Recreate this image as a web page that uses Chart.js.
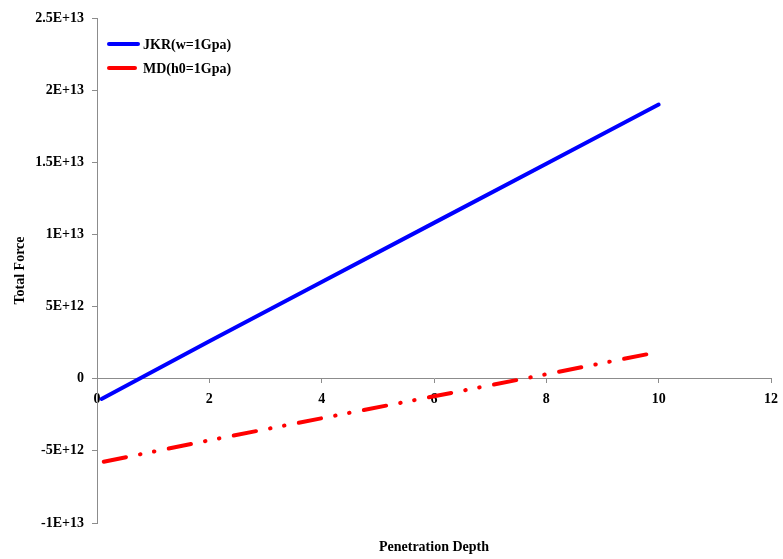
<!DOCTYPE html>
<html>
<head>
<meta charset="utf-8">
<script src="https://cdn.jsdelivr.net/npm/chart.js@4/dist/chart.umd.min.js"></script>
<style>
  html, body { margin: 0; padding: 0; background: #fff; }
  #wrap { width: 783px; height: 559px; position: relative; }
</style>
</head>
<body>
<div id="wrap"><canvas id="c"></canvas></div>
<script>
// ---- data ----
const seriesNames = ['JKR(w=1Gpa)', 'MD(h0=1Gpa)'];
const jkrDepth = [0.08, 2, 4, 6, 8, 10];
const jkrForce = [-1.4e12, 2.6e12, 6.7e12, 10.8e12, 14.9e12, 19.0e12];
const mdDepth = [0.12, 2, 4, 6, 8, 9.8];
const mdForce = [-5.75e12, -4.27e12, -2.74e12, -1.22e12, 0.31e12, 1.70e12];
const yTickValues = [-1e13, -5e12, 0, 5e12, 1e13, 1.5e13, 2e13, 2.5e13];
const yTickLabels = ['-1E+13', '-5E+12', '0', '5E+12', '1E+13', '1.5E+13', '2E+13', '2.5E+13'];
const xTickLabels = ['0', '2', '4', '6', '8', '10', '12'];
const xTitle = 'Penetration Depth';
const yTitle = 'Total Force';

const FONT = "'Liberation Serif', 'Times New Roman', serif";
const AXIS_GRAY = '#8c8c8c';
const colors = ['#0000ff', '#ff0000'];

const toPoints = (xs, ys) => xs.map((x, i) => ({ x: x, y: ys[i] }));

const legendPlugin = {
  id: 'insideLegend',
  afterDraw(chart) {
    const ctx = chart.ctx;
    const items = [
      { text: seriesNames[0], color: colors[0], y: 44, x2: 138 },
      { text: seriesNames[1], color: colors[1], y: 68, x2: 135 }
    ];
    ctx.save();
    items.forEach(it => {
      ctx.beginPath();
      ctx.strokeStyle = it.color;
      ctx.lineWidth = 4;
      ctx.lineCap = 'round';
      ctx.setLineDash([]);
      ctx.moveTo(109, it.y);
      ctx.lineTo(it.x2, it.y);
      ctx.stroke();
      ctx.fillStyle = '#000';
      ctx.font = 'bold 14px ' + FONT;
      ctx.textBaseline = 'middle';
      ctx.textAlign = 'left';
      ctx.fillText(it.text, 143, it.y + 1);
    });
    ctx.restore();
  }
};

new Chart(document.getElementById('c'), {
  type: 'line',
  data: {
    datasets: [
      {
        label: seriesNames[0],
        data: toPoints(jkrDepth, jkrForce),
        borderColor: colors[0],
        borderWidth: 4,
        borderCapStyle: 'round',
        pointRadius: 0,
        tension: 0,
        fill: false
      },
      {
        label: seriesNames[1],
        data: toPoints(mdDepth, mdForce),
        borderColor: colors[1],
        borderWidth: 4,
        borderCapStyle: 'round',
        borderDash: [22.7, 14.3, 0.5, 13.7, 0.5, 14.6],
        pointRadius: 0,
        tension: 0,
        fill: false
      }
    ]
  },
  options: {
    responsive: true,
    maintainAspectRatio: false,
    animation: false,
    layout: { padding: { left: 0, right: 12, top: 18, bottom: 0 } },
    plugins: { legend: { display: false }, tooltip: { enabled: false } },
    scales: {
      x: {
        type: 'linear',
        position: { y: 0 },
        min: 0, max: 12,
        afterBuildTicks(scale) {
          scale.ticks = xTickLabels.map(l => ({ value: Number(l) }));
        },
        afterFit(scale) { scale.height = 0; scale.paddingLeft = 0; scale.paddingRight = 0; },
        ticks: {
          padding: 8,
          maxRotation: 0,
          color: '#000',
          font: { family: FONT, size: 14, weight: 'bold' },
          callback: (v) => xTickLabels[xTickLabels.indexOf(String(v))]
        },
        grid: { drawOnChartArea: false, drawTicks: true, tickLength: 4, color: AXIS_GRAY, lineWidth: 1 },
        border: { display: true, color: AXIS_GRAY, width: 1 }
      },
      x2: {
        type: 'linear',
        position: 'bottom',
        min: 0, max: 12,
        afterFit(scale) { scale.height = 36; scale.paddingLeft = 0; scale.paddingRight = 0; },
        ticks: { display: false },
        grid: { display: false, drawTicks: false },
        border: { display: false },
        title: {
          display: true,
          text: xTitle,
          color: '#000',
          font: { family: FONT, size: 14, weight: 'bold' },
          padding: { top: 0, bottom: 3 }
        }
      },
      y: {
        type: 'linear',
        position: 'left',
        min: -1e13, max: 2.5e13,
        afterBuildTicks(scale) {
          scale.ticks = yTickValues.map(v => ({ value: v }));
        },
        afterFit(scale) { scale.width = 97; },
        ticks: {
          padding: 8,
          color: '#000',
          font: { family: FONT, size: 14, weight: 'bold' },
          callback: (v) => yTickLabels[yTickValues.indexOf(v)]
        },
        grid: { drawOnChartArea: false, drawTicks: true, tickLength: 5, color: AXIS_GRAY, lineWidth: 1 },
        border: { display: true, color: AXIS_GRAY, width: 1 },
        title: {
          display: true,
          text: yTitle,
          color: '#000',
          font: { family: FONT, size: 14, weight: 'bold' },
          padding: { top: 12, bottom: 0 }
        }
      }
    }
  },
  plugins: [legendPlugin]
});
</script>
</body>
</html>
